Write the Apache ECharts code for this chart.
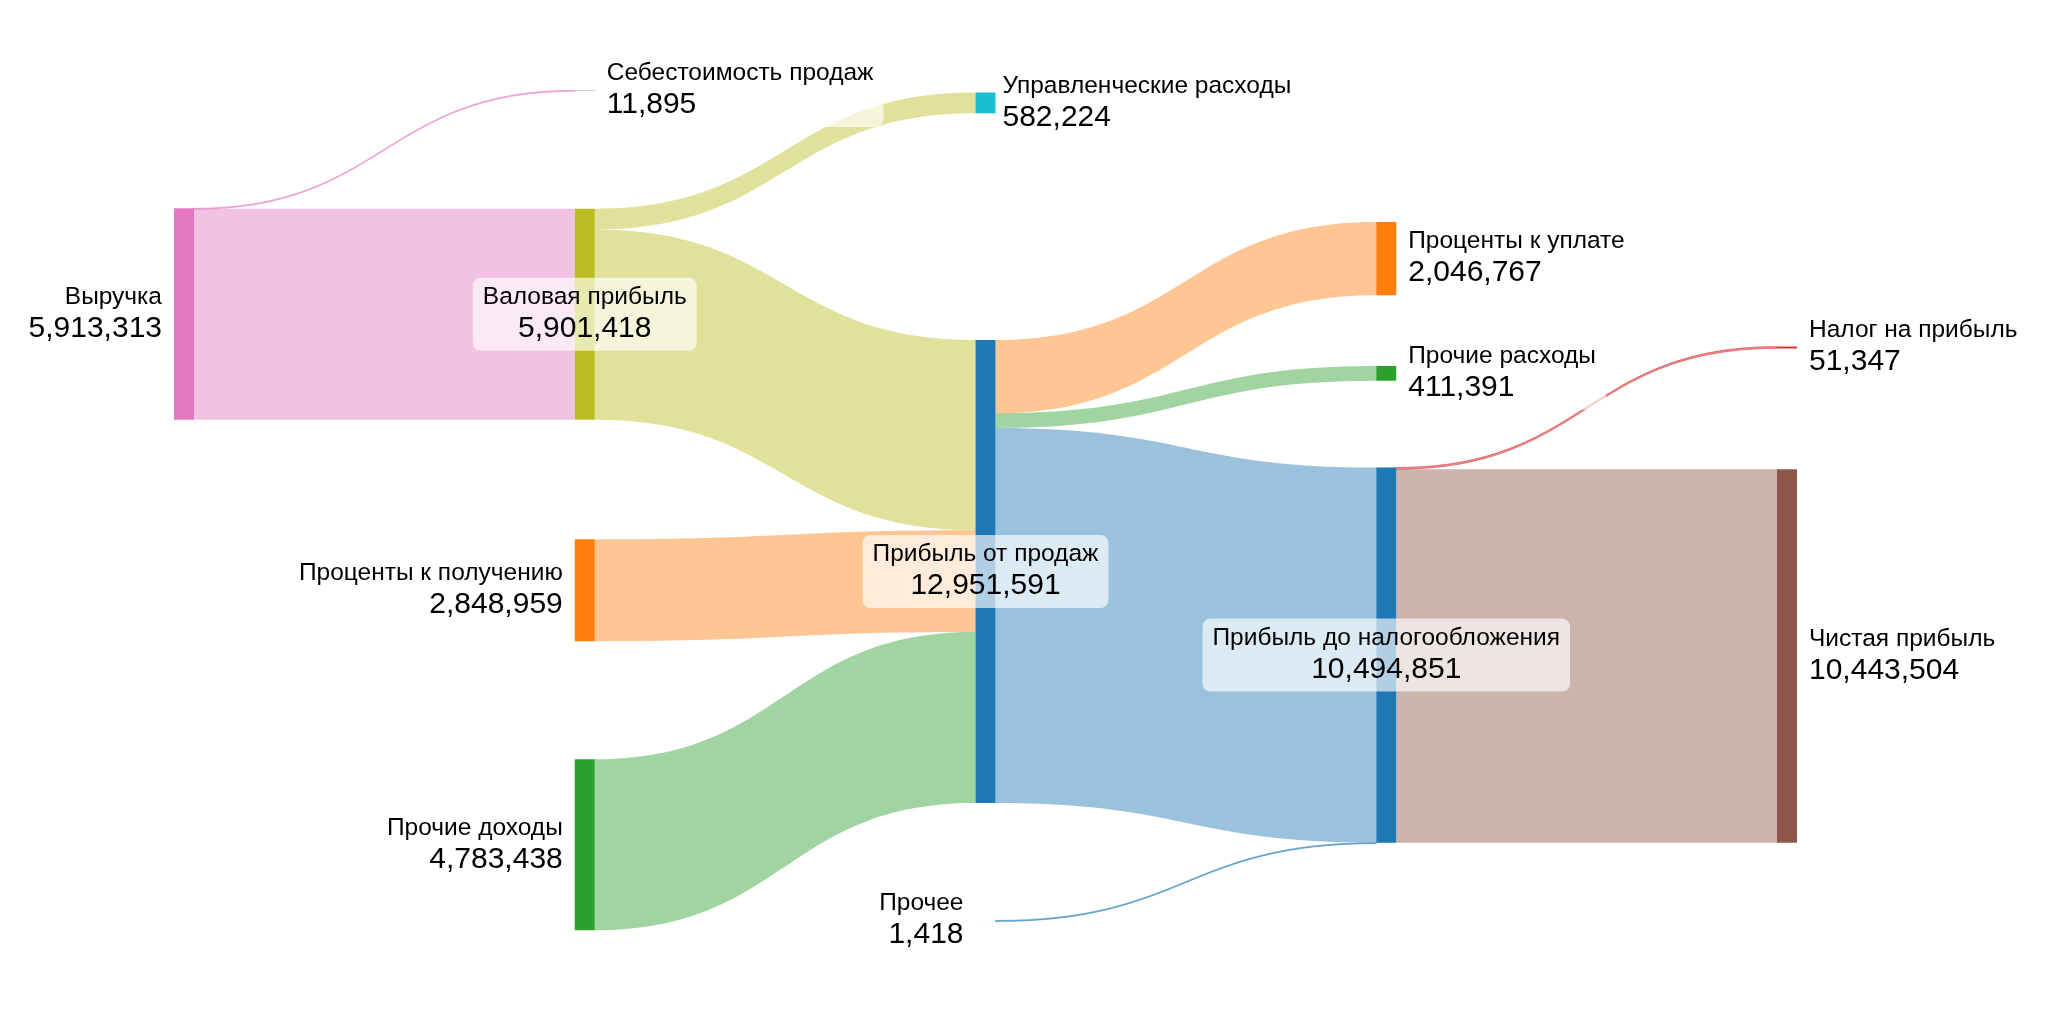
<!DOCTYPE html>
<html>
<head>
<meta charset="utf-8">
<script src="https://cdn.jsdelivr.net/npm/echarts@6/dist/echarts.min.js"></script>
<style>
html,body{margin:0;padding:0;background:#ffffff;}
#chart{width:2048px;height:1024px;}
</style>
</head>
<body>
<div id="chart"></div>
<script>
// ---------------- DATA ----------------
const nodeNames = [
  'Выручка',
  'Себестоимость продаж',
  'Валовая прибыль',
  'Проценты к получению',
  'Прочие доходы',
  'Управленческие расходы',
  'Прибыль от продаж',
  'Прочее',
  'Проценты к уплате',
  'Прочие расходы',
  'Прибыль до налогообложения',
  'Налог на прибыль',
  'Чистая прибыль'
];
const nodeValues = [5913313, 11895, 5901418, 2848959, 4783438, 582224, 12951591, 1418, 2046767, 411391, 10494851, 51347, 10443504];
const nodeStages = [0, 1, 1, 1, 1, 2, 2, 2, 3, 3, 3, 4, 4];

const linkSources = [
  'Выручка', 'Выручка',
  'Валовая прибыль', 'Валовая прибыль',
  'Проценты к получению', 'Прочие доходы',
  'Прибыль от продаж', 'Прибыль от продаж', 'Прибыль от продаж',
  'Прочее',
  'Прибыль до налогообложения', 'Прибыль до налогообложения'
];
const linkTargets = [
  'Себестоимость продаж', 'Валовая прибыль',
  'Управленческие расходы', 'Прибыль от продаж',
  'Прибыль от продаж', 'Прибыль от продаж',
  'Проценты к уплате', 'Прочие расходы', 'Прибыль до налогообложения',
  'Прибыль до налогообложения',
  'Налог на прибыль', 'Чистая прибыль'
];
const linkValues = [11895, 5901418, 582224, 5319194, 2848959, 4783438, 2046767, 411391, 10493433, 1418, 51347, 10443504];

// ---------------- STYLE / LAYOUT ----------------
const nodeColors = {
  'Выручка': '#e377c2',
  'Себестоимость продаж': '#7f7f7f',
  'Валовая прибыль': '#bcbd22',
  'Проценты к получению': '#ff7f0e',
  'Прочие доходы': '#2ca02c',
  'Управленческие расходы': '#17becf',
  'Прибыль от продаж': '#1f77b4',
  'Прочее': '#9ac2dd',
  'Проценты к уплате': '#ff7f0e',
  'Прочие расходы': '#2ca02c',
  'Прибыль до налогообложения': '#1f77b4',
  'Налог на прибыль': '#d62728',
  'Чистая прибыль': '#8c564b'
};
const linkColors = ['#e377c2', '#e377c2', '#bcbd22', '#bcbd22', '#ff7f0e', '#2ca02c',
                    '#ff7f0e', '#2ca02c', '#1f77b4', '#1f77b4', '#d62728', '#8c564b'];
// vertical placement of each node (top, as a fraction of the series height), like plotly node.y
const nodeTopFrac = {
  'Выручка': 0.2083,
  'Себестоимость продаж': 0.0903,
  'Валовая прибыль': 0.2087,
  'Проценты к получению': 0.5393,
  'Прочие доходы': 0.7593,
  'Управленческие расходы': 0.0925,
  'Прибыль от продаж': 0.3400,
  'Прочее': 0.9205,
  'Проценты к уплате': 0.2220,
  'Прочие расходы': 0.3660,
  'Прибыль до налогообложения': 0.4675,
  'Налог на прибыль': 0.3466,
  'Чистая прибыль': 0.4693
};
const labelSide = {
  'Выручка': 'left',
  'Себестоимость продаж': 'right',
  'Валовая прибыль': 'inside',
  'Проценты к получению': 'left',
  'Прочие доходы': 'left',
  'Управленческие расходы': 'right',
  'Прибыль от продаж': 'inside',
  'Прочее': 'left',
  'Проценты к уплате': 'right',
  'Прочие расходы': 'right',
  'Прибыль до налогообложения': 'inside',
  'Налог на прибыль': 'right',
  'Чистая прибыль': 'right'
};

const FONT = '"Liberation Sans", Arial, Helvetica, sans-serif';
const fmt = v => Number(v).toLocaleString('en-US');

const nodes = nodeNames.map((name, i) => {
  const side = labelSide[name];
  const align = side === 'left' ? 'right' : (side === 'inside' ? 'center' : 'left');
  const tight = name === 'Управленческие расходы';
  return {
    name: name,
    value: nodeValues[i],
    depth: nodeStages[i],
    localY: nodeTopFrac[name],
    itemStyle: { color: nodeColors[name], borderWidth: 0, opacity: 1 },
    label: {
      show: true,
      position: side,
      distance: side === 'inside' ? 0 : 2,
      formatter: '{n|' + name + '}\n{v|' + fmt(nodeValues[i]) + '}',
      backgroundColor: 'rgba(255,255,255,0.65)',
      borderRadius: 8,
      padding: tight ? [5, 10, 5, 5] : [5, 10, 5, 10],
      rich: {
        n: { fontSize: 24.5, lineHeight: 29, color: '#000', fontFamily: FONT, align: align },
        v: { fontSize: 30, lineHeight: 34, color: '#000', fontFamily: FONT, align: align }
      }
    }
  };
});

const tinyLinks = { 'Себестоимость продаж': true, 'Прочее': true, 'Налог на прибыль': true };
const links = linkValues.map((v, i) => {
  const tiny = tinyLinks[linkTargets[i]] || tinyLinks[linkSources[i]];
  return {
    source: linkSources[i],
    target: linkTargets[i],
    value: v,
    lineStyle: tiny
      ? { color: linkColors[i], opacity: 0.5, borderColor: linkColors[i], borderWidth: 1 }
      : { color: linkColors[i], opacity: 0.45 }
  };
});

const chart = echarts.init(document.getElementById('chart'), null, { renderer: 'canvas' });
chart.setOption({
  backgroundColor: '#ffffff',
  animation: false,
  series: [{
    type: 'sankey',
    left: 174,
    top: 0,
    width: 1623,
    height: 1000,
    nodeWidth: 20,
    nodeGap: 171.9,
    nodeAlign: 'left',
    layoutIterations: 0,
    draggable: false,
    emphasis: { disabled: true },
    lineStyle: { curveness: 0.5 },
    data: nodes,
    links: links
  }]
});
</script>
</body>
</html>
